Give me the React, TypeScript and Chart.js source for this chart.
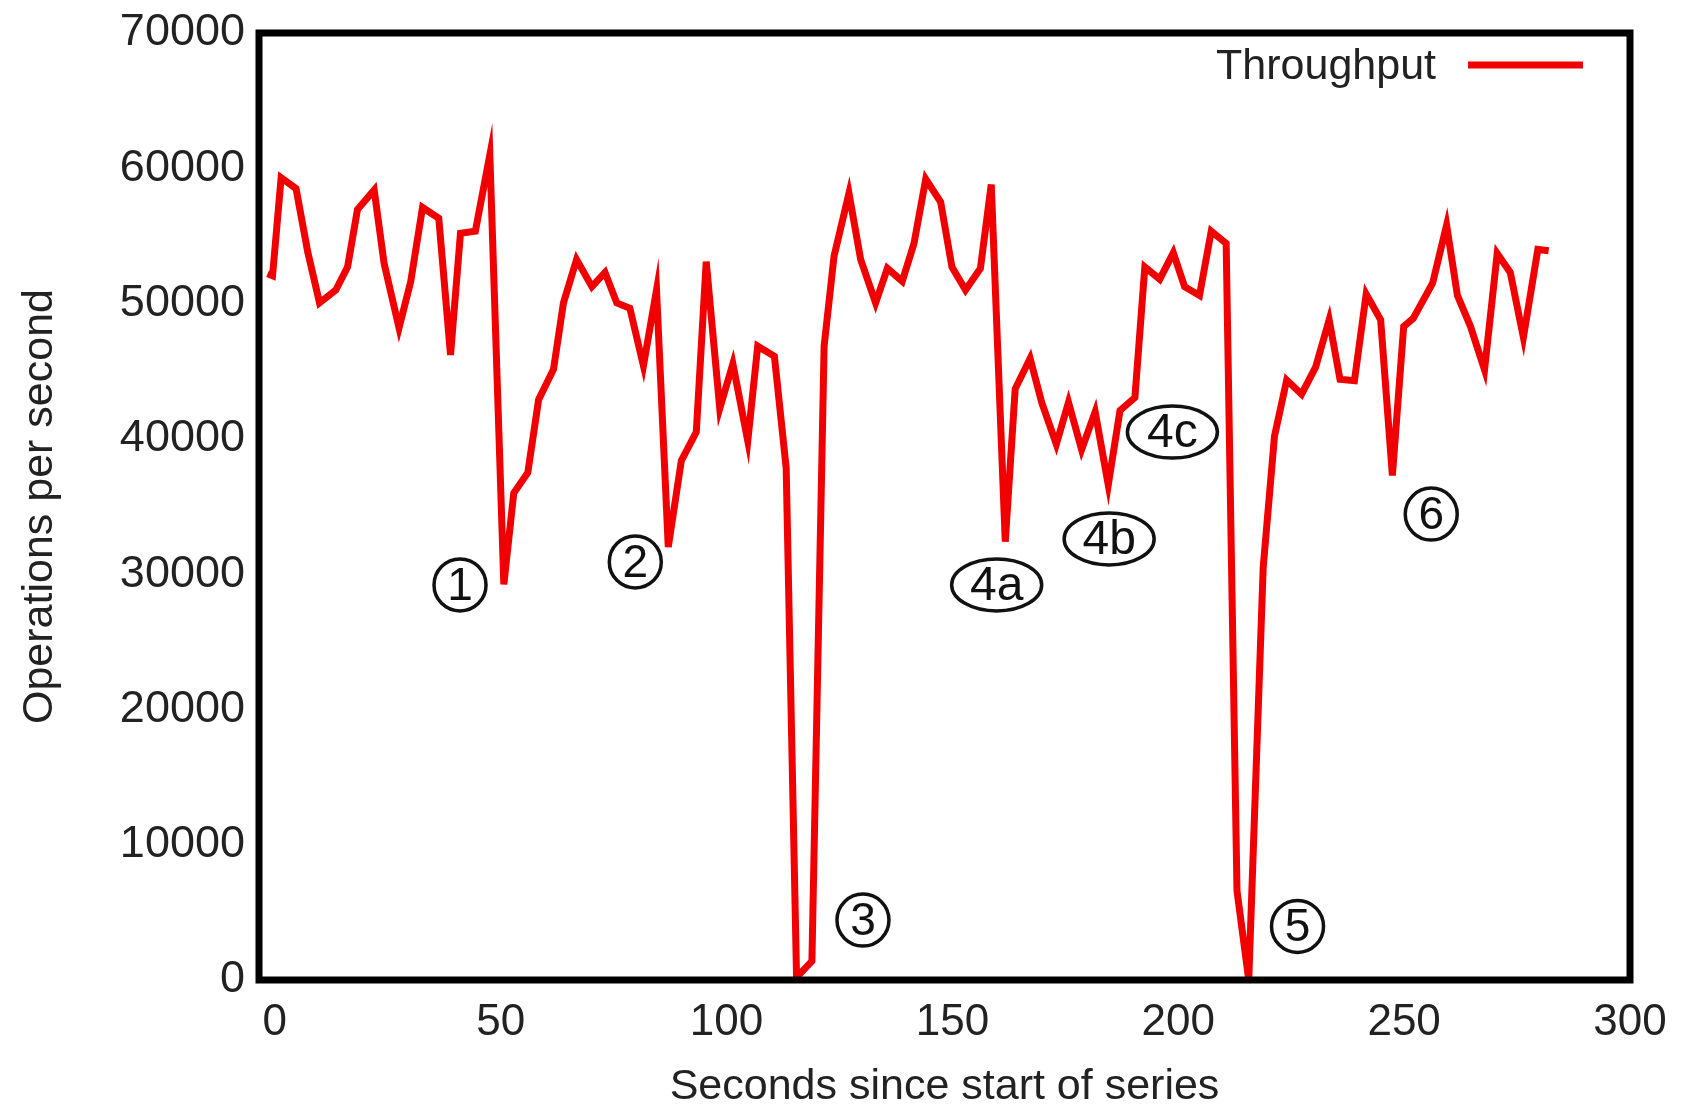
import React, { useEffect, useRef } from 'react';
import { Chart, registerables } from 'chart.js';

Chart.register(...registerables);

// ---- data ----
const seconds = [
  -1.6, -0.5, 1.4, 4.7, 7.3, 9.9, 13.5, 16.1, 18.3, 22.0, 24.2, 27.5, 30.1, 32.7, 36.3, 38.9, 41.1, 44.4, 47.6,
  50.7, 52.9, 56.0, 58.4, 61.7, 63.9, 66.8, 70.2, 73.1, 75.7, 78.6, 81.6, 84.5, 87.1, 90.0, 93.3, 95.5, 98.5,
  101.4, 104.7, 106.9, 110.6, 113.2, 115.5, 118.9, 121.6, 123.8, 127.1, 129.7, 133.0, 135.6, 138.9, 141.5, 144.1,
  147.4, 149.9, 152.9, 156.2, 158.6, 161.7, 163.9, 167.2, 169.8, 173.0, 175.7, 178.6, 181.6, 184.5, 187.1, 190.4,
  192.6, 195.9, 198.9, 201.4, 204.7, 207.3, 210.6, 213.0, 215.6, 218.8, 221.3, 224.0, 227.3, 230.4, 233.4, 235.8,
  239.0, 241.6, 244.8, 247.4, 249.9, 252.0, 256.3, 259.4, 261.8, 264.7, 267.8, 270.6, 273.5, 276.4, 279.6, 282.0,
];
const throughput = [
  52200, 52050, 59300, 58500, 53800, 50050, 51000, 52700, 56950, 58400, 52950, 48200, 51650, 57100, 56300, 46200, 55200, 55350, 61000,
  29250, 36000, 37500, 42900, 45150, 50050, 53250, 51250, 52300, 50050, 49650, 45400, 51000, 32000, 38400, 40500, 53100, 42250,
  45550, 39850, 46850, 46100, 37850, 200, 1400, 46850, 53500, 58150, 53250, 50050, 52600, 51650, 54450, 59200,
  57500, 52700, 51000, 52600, 58800, 32400, 43700, 45950, 42650, 39600, 42700, 39200, 42000, 36600, 42100, 43050,
  52700, 51800, 53750, 51250, 50600, 55350, 54450, 6600, 0, 30500, 40200, 44350, 43300, 45300, 48800, 44400,
  44300, 50700, 48800, 37300, 48300, 48900, 51500, 55800, 50600, 48300, 45100, 53700, 52300, 47500, 54000, 53900,
];
const xTicks = [0, 50, 100, 150, 200, 250, 300];
const yTicks = [0, 10000, 20000, 30000, 40000, 50000, 60000, 70000];
const seriesLabel = 'Throughput';
const xTitle = 'Seconds since start of series';
const yTitle = 'Operations per second';

// annotation markers (label, position in data units)
const noteLabels = ['1', '2', '3', '4a', '4b', '4c', '5', '6'];
const noteX = [41.0, 79.8, 130.2, 159.8, 184.7, 198.7, 226.4, 256.0];
const noteY = [29200, 30900, 4430, 29200, 32600, 40500, 3960, 34440];

const FONT = '"Liberation Sans", Arial, Helvetica, sans-serif';
const RED = '#f00000';

const framePlugin = {
  id: 'frameAndNotes',
  afterDatasetsDraw(chart: any) {
    const { ctx, chartArea: a, scales } = chart;
    ctx.save();
    // annotations
    ctx.strokeStyle = '#111';
    ctx.fillStyle = '#111';
    ctx.lineWidth = 3.5;
    ctx.textAlign = 'center';
    ctx.textBaseline = 'middle';
    noteLabels.forEach((t, i) => {
      const cx = scales.x.getPixelForValue(noteX[i]);
      const cy = scales.y.getPixelForValue(noteY[i]);
      const wide = t.length > 1;
      const rx = wide ? 45 : 26;
      const ry = wide ? 26 : 26;
      ctx.beginPath();
      ctx.ellipse(cx, cy, rx, ry, 0, 0, Math.PI * 2);
      ctx.stroke();
      ctx.font = (wide ? '48px ' : '46px ') + FONT;
      ctx.fillText(t, cx, cy + 2);
    });
    // frame
    ctx.strokeStyle = '#000';
    ctx.lineWidth = 7;
    ctx.strokeRect(a.left, a.top, a.right - a.left, a.bottom - a.top);
    // legend
    const ly = a.top + 32;
    ctx.font = '43px ' + FONT;
    ctx.fillStyle = '#222';
    ctx.textAlign = 'right';
    ctx.fillText(chart.data.datasets[0].label, a.right - 194, ly + 2);
    ctx.strokeStyle = RED;
    ctx.lineWidth = 7;
    ctx.beginPath();
    ctx.moveTo(a.right - 162, ly);
    ctx.lineTo(a.right - 47, ly);
    ctx.stroke();
    ctx.restore();
  },
};

export default function App() {
  const ref = useRef<HTMLCanvasElement>(null);
  useEffect(() => {
    if (!ref.current) return;
    const chart = new Chart(ref.current, {
      type: 'scatter',
      data: {
        datasets: [
          {
            label: seriesLabel,
            data: seconds.map((s, i) => ({ x: s, y: throughput[i] })),
            showLine: true,
            borderColor: RED,
            backgroundColor: RED,
            borderWidth: 7,
            pointRadius: 0,
            borderJoinStyle: 'miter',
            tension: 0,
          },
        ],
      },
      options: {
        animation: false,
        responsive: true,
        maintainAspectRatio: false,
        layout: { padding: { top: 22, right: 53, left: 0, bottom: 0 } },
        plugins: { legend: { display: false }, tooltip: { enabled: false } },
        scales: {
          x: {
            type: 'linear',
            min: -3.5,
            max: 300,
            grid: { display: false },
            border: { display: false },
            afterBuildTicks: (s: any) => {
              s.ticks = xTicks.map((v) => ({ value: v }));
            },
            afterFit: (s: any) => {
              s.height = 126;
            },
            ticks: {
              padding: 8,
              color: '#222',
              font: { family: FONT, size: 44 },
              maxRotation: 0,
              callback: (v: any) => String(v),
            },
            title: {
              display: true,
              text: xTitle,
              color: '#222',
              font: { family: FONT, size: 43, lineHeight: 0.9 },
              padding: { top: 0, bottom: 0 },
            },
          },
          y: {
            type: 'linear',
            min: 0,
            max: 70000,
            grid: { display: false },
            border: { display: false },
            afterBuildTicks: (s: any) => {
              s.ticks = yTicks.map((v) => ({ value: v }));
            },
            afterFit: (s: any) => {
              s.width = 259;
            },
            ticks: {
              padding: 6,
              color: '#222',
              font: { family: FONT, size: 45 },
              callback: (v: any) => String(v),
            },
            title: {
              display: true,
              text: yTitle,
              color: '#222',
              font: { family: FONT, size: 43, lineHeight: 1.2 },
              padding: { top: 14, bottom: 0 },
            },
          },
        },
      },
      plugins: [framePlugin],
    });
    return () => chart.destroy();
  }, []);
  return (
    <div style={{ position: 'fixed', left: 0, top: 0, width: 1683, height: 1106, background: '#fff' }}>
      <canvas ref={ref} />
    </div>
  );
}
